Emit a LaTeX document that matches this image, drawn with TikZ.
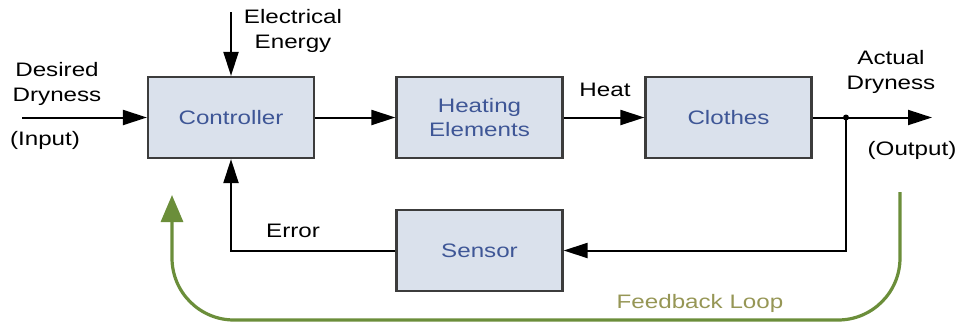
\documentclass[tikz,border=0pt]{standalone}
\usepackage{fontspec}
\setmainfont{Liberation Sans}[FakeStretch=1.24]
\usetikzlibrary{arrows.meta}
\definecolor{boxfill}{RGB}{218,225,236}
\definecolor{boxborder}{RGB}{60,60,60}
\definecolor{boxtext}{RGB}{62,86,150}
\definecolor{loopgreen}{RGB}{107,142,58}
\definecolor{looptext}{RGB}{150,150,85}
\begin{document}
\begin{tikzpicture}[x=1pt,y=-1pt,
  block/.style={draw=boxborder, fill=boxfill, line width=2.2pt, minimum width=166pt, minimum height=81pt, inner sep=0pt, font=\fontsize{19.5}{24}\selectfont, text=boxtext, align=center},
  lbl/.style={font=\fontsize{19.5}{25}\selectfont, align=center, inner sep=0pt},
  arr/.style={line width=2pt, -{Triangle[length=24pt,width=15pt]}},
  looparr/.style={line width=3.2pt, draw=loopgreen, rounded corners=62pt, -{Triangle[length=27pt,width=22pt]}}]
\useasboundingbox (0,0) rectangle (959,322);
\node[block] (ctrl) at (231,117.5) {Controller};
\node[block] (heat) at (479.5,117.5) {Heating\\Elements};
\node[block] (clothes) at (728.5,117.5) {Clothes};
\node[block] (sensor) at (479.5,250.5) {Sensor};
\coordinate (in) at (22,117.5);
\coordinate (ee) at (231,12);
\coordinate (out) at (932,117.5);
\coordinate (tap) at (846,117.5);
\draw[arr] (in) -- (ctrl);
\draw[arr] (ee) -- (ctrl);
\draw[arr] (ctrl) -- (heat);
\draw[arr] (heat) -- (clothes);
\draw[arr] (clothes) -- (out);
\fill (tap) circle (3pt);
\draw[arr] (tap) |- (sensor);
\draw[arr] (sensor) -| (ctrl);
\node[lbl] (desired) at (57,84) {Desired\\Dryness};
\node[lbl] (input) at (45,140) {(Input)};
\node[lbl] (elec) at (293,31) {Electrical\\Energy};
\node[lbl] (heatlbl) at (605,90) {Heat};
\node[lbl] (actual) at (891,72) {Actual\\Dryness};
\node[lbl] (output) at (912,150) {(Output)};
\node[lbl] (error) at (293,231) {Error};
\node[lbl, text=looptext] (fbl) at (700,303) {Feedback Loop};
\coordinate (ls) at (900,192);
\coordinate (lr) at (900,320);
\coordinate (ll) at (172,320);
\coordinate (le) at (172,195);
\draw[looparr] (ls) -- (lr) -- (ll) -- (le);
\end{tikzpicture}
\end{document}
